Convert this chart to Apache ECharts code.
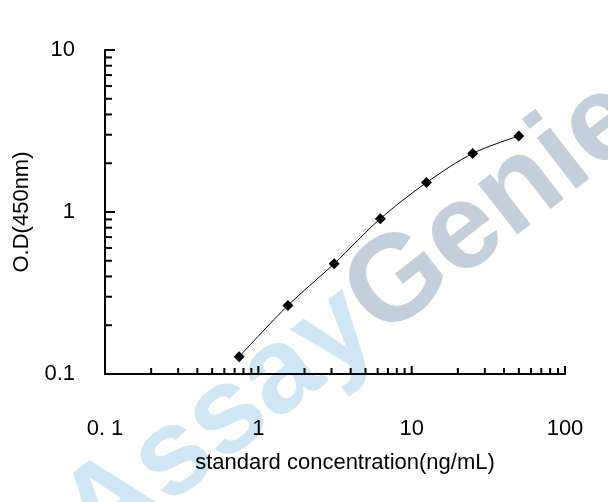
<!DOCTYPE html>
<html>
<head>
<meta charset="utf-8">
<script src="https://cdn.jsdelivr.net/npm/echarts@6/dist/echarts.min.js"></script>
<style>html,body{margin:0;padding:0;background:#fff}#chart{width:608px;height:502px}</style>
</head>
<body>
<div id="chart"></div>
<script>
// standard curve data
var concentrations = [0.75, 1.56, 3.125, 6.25, 12.5, 25, 50];
var odValues = [0.128, 0.265, 0.48, 0.91, 1.52, 2.3, 2.95];
var xTickLabels = {'0.1': '0. 1', '1': '1', '10': '10', '100': '100'};
var yTickLabels = {'0.1': '0.1', '1': '1', '10': '10'};

// tick values for both axes (major + minor)
function tickValues(lo, hi) {
    var out = [];
    for (var d = lo; d < hi * 0.999; d *= 10) {
        for (var k = 1; k <= 9; k++) out.push([d * k, k === 1]);
    }
    out.push([hi, true]);
    return out;
}
var xTicks = tickValues(0.1, 100);
var yTicks = tickValues(0.1, 10);

var chart = echarts.init(document.getElementById('chart'));
var font = 'Liberation Sans, Arial, sans-serif';

var option = {
    animation: false,
    graphic: [{
        type: 'text',
        z: -10,
        rotation: Math.PI * 0.21,
        position: [40, 485],
        style: {
            text: '{a|Assay}{g|Genie}',
            font: 'bold 122px ' + font,
            rich: {
                a: {fill: '#cfe7f4', font: 'bold 122px ' + font},
                g: {fill: '#c3d0dc', font: 'bold 122px ' + font}
            }
        }
    }],
    grid: {left: 105, right: 43, top: 50, bottom: 128},
    xAxis: {
        type: 'log', min: 0.1, max: 100, logBase: 10,
        name: 'standard concentration(ng/mL)',
        nameLocation: 'middle', nameGap: 78,
        nameTextStyle: {color: '#000', fontSize: 22, fontFamily: font, padding: [0, 0, 0, 20]},
        axisLine: {lineStyle: {color: '#000', width: 2}},
        axisTick: {show: false},
        splitLine: {show: false},
        axisLabel: {color: '#000', fontSize: 22, fontFamily: font, margin: 44,
            formatter: function (v) { return xTickLabels[String(v)] || ''; }}
    },
    yAxis: {
        type: 'log', min: 0.1, max: 10, logBase: 10,
        name: 'O.D(450nm)',
        nameLocation: 'middle', nameGap: 72, nameRotate: 90,
        nameTextStyle: {color: '#000', fontSize: 22, fontFamily: font},
        axisLine: {lineStyle: {color: '#000', width: 2}},
        axisTick: {show: false},
        splitLine: {show: false},
        axisLabel: {color: '#000', fontSize: 22, fontFamily: font, margin: 30,
            formatter: function (v) { return yTickLabels[String(v)] || ''; }}
    },
    series: [
        {
            type: 'custom', silent: true, z: 1,
            data: xTicks.map(function (t) { return [t[0], t[1] ? 1 : 0]; }),
            renderItem: function (params, api) {
                var p = api.coord([api.value(0), 0.1]);
                var len = api.value(1) ? 8 : 6;
                return {type: 'line', shape: {x1: p[0], y1: p[1], x2: p[0], y2: p[1] - len},
                    style: {stroke: '#000', lineWidth: 2}};
            }
        },
        {
            type: 'custom', silent: true, z: 1,
            data: yTicks.map(function (t) { return [t[0], t[1] ? 1 : 0]; }),
            renderItem: function (params, api) {
                var p = api.coord([0.1, api.value(0)]);
                var len = api.value(1) ? 10 : 7;
                return {type: 'line', shape: {x1: p[0], y1: p[1], x2: p[0] + len, y2: p[1]},
                    style: {stroke: '#000', lineWidth: 2}};
            }
        },
        {
            type: 'line', smooth: 0.3, z: 3,
            data: concentrations.map(function (c, i) { return [c, odValues[i]]; }),
            symbol: 'diamond', symbolSize: 11,
            itemStyle: {color: '#000'},
            lineStyle: {color: '#000', width: 1}
        }
    ]
};
chart.setOption(option);
</script>
</body>
</html>
